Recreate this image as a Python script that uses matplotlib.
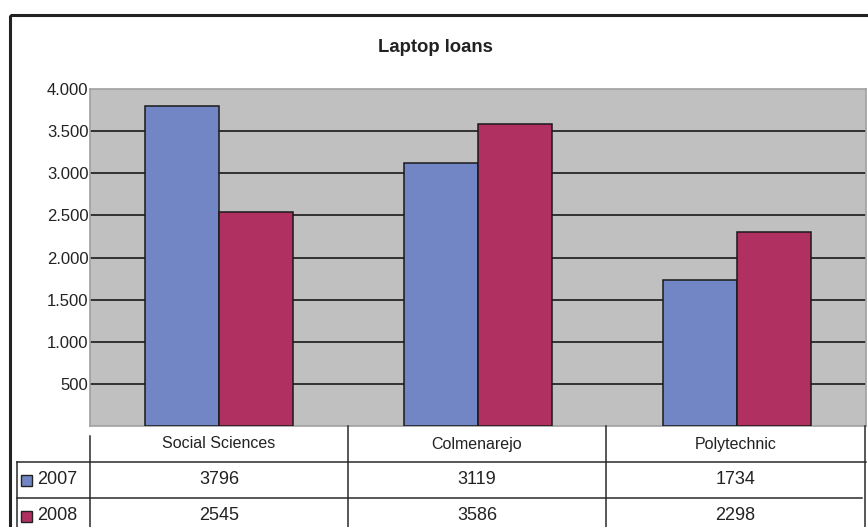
import matplotlib
matplotlib.use('Agg')
import numpy as np
import matplotlib.pyplot as plt
from matplotlib.patches import Rectangle

plt.rcParams['font.family'] = ['Liberation Sans', 'DejaVu Sans']

categories = ['Social Sciences', 'Colmenarejo', 'Polytechnic']
years = ['2007', '2008']
loans_2007 = [3796, 3119, 1734]
loans_2008 = [2545, 3586, 2298]
yticks = [500, 1000, 1500, 2000, 2500, 3000, 3500, 4000]

blue = '#7286C6'
red = '#B03062'
W, H = 868, 527

fig = plt.figure(figsize=(W / 100, H / 100), dpi=100)

# plot area in pixel coords: x 90..866, y 89..426
left, right, top, bottom = 90, 866, 89, 426
ax = fig.add_axes([left / W, 1 - bottom / H, (right - left) / W, (bottom - top) / H])
ax.set_facecolor('#C0C0C0')
x = np.arange(len(categories))
bw = 0.286
ax.bar(x - bw / 2, loans_2007, bw, color=blue, edgecolor='#1a1a1a', linewidth=1.1, zorder=3)
ax.bar(x + bw / 2, loans_2008, bw, color=red, edgecolor='#1a1a1a', linewidth=1.1, zorder=3)
ax.set_xlim(-0.5, len(categories) - 0.5)
ax.set_ylim(0, 4000)
ax.set_yticks(yticks)
ax.set_yticklabels([f'{v:,}'.replace(',', '.') for v in yticks], fontsize=12, color='#222222')
ax.set_xticks([])
ax.tick_params(axis='y', length=0, pad=1)
for v in yticks[:-1]:
    ax.axhline(v, color='#1a1a1a', linewidth=1.2, zorder=1)
for s in ax.spines.values():
    s.set_color('#A0A0A0')
    s.set_linewidth(1.2)

# overlay in pixel coordinates for frame, title and data table
ov = fig.add_axes([0, 0, 1, 1], zorder=5)
ov.set_xlim(0, W)
ov.set_ylim(H, 0)
ov.set_axis_off()

ov.add_patch(Rectangle((10, 15), W, H, fill=False, edgecolor='#222222', linewidth=2.2))
ov.text(435, 47, 'Laptop loans', ha='center', va='center', fontsize=13.3, fontweight='bold', color='#222222')

lc = '#2a2a2a'
lw = 1.1
ov.plot([17, 866], [462, 462], color=lc, lw=lw)
ov.plot([17, 862], [498, 498], color=lc, lw=lw)
ov.plot([17, 17], [462, 527], color=lc, lw=lw)
ov.plot([90, 90], [436, 527], color=lc, lw=lw)
col_edges = [90, 348, 606, 865]
for xe in col_edges[1:]:
    ov.plot([xe, xe], [426, 527], color=lc, lw=lw)

row_y = [480, 516]
for i, name in enumerate(categories):
    cx = (col_edges[i] + col_edges[i + 1]) / 2
    ov.text(cx, 444, name, ha='center', va='center', fontsize=11.5, color='#222222')
    ov.text(cx, row_y[0], str(loans_2007[i]), ha='center', va='center', fontsize=13, color='#222222')
    ov.text(cx, row_y[1], str(loans_2008[i]), ha='center', va='center', fontsize=13, color='#222222')

for yr, col, yy in zip(years, [blue, red], row_y):
    ov.add_patch(Rectangle((21, yy - 5.5), 11, 11, facecolor=col, edgecolor='#222222', linewidth=1))
    ov.text(37, yy, yr, ha='left', va='center', fontsize=13, color='#222222')

fig.savefig('out.png', dpi=100)
